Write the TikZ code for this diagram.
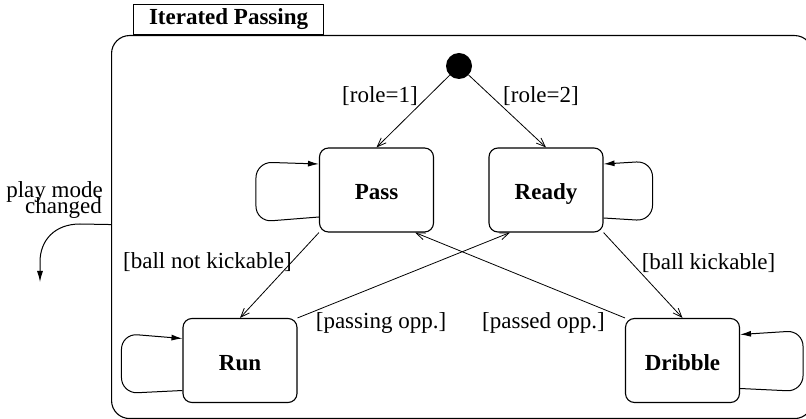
\documentclass[tikz,border=0pt]{standalone}
\usepackage{fontspec}
\setmainfont{Liberation Serif}
\usetikzlibrary{arrows.meta,calc}

\tikzset{
  txt/.style={font=\fontsize{23}{27}\selectfont, inner sep=0pt},
  statebox/.style={draw, line width=1.1pt, rounded corners=9pt,
    minimum width=114pt, minimum height=84pt, inner sep=0pt,
    text height=20pt, text depth=0pt,
    font=\fontsize{23}{27}\selectfont\bfseries},
  trans/.style={line width=0.8pt, -{Straight Barb[length=9pt,width=7pt]}},
  selfloop/.style={line width=1pt, rounded corners=16pt, -{Latex[length=11pt,width=6pt]}},
}

\begin{document}
\begin{tikzpicture}[x=1pt,y=-1pt]
  % canvas
  \path[fill=white,use as bounding box] (0,0) rectangle (806,419);

  % composite state frame and its name tab
  \node[draw, line width=1.1pt, rounded corners=18pt, minimum width=701pt,
        minimum height=383pt, inner sep=0pt, anchor=north west] (group) at (111,35) {};
  \node[draw, line width=1.1pt, minimum width=190pt, minimum height=30pt,
        inner sep=0pt, anchor=south west, font=\fontsize{23}{27}\selectfont\bfseries]
        (tab) at (133,35) {Iterated Passing};

  % initial pseudo-state
  \node[circle, fill=black, minimum size=26pt, inner sep=0pt] (init) at (459,66) {};

  % states
  \node[statebox] (Pass)    at (376.5,190) {Pass};
  \node[statebox] (Ready)   at (546,190)   {Ready};
  \node[statebox] (Run)     at (240,360.5) {Run};
  \node[statebox] (Dribble) at (682.5,360.5) {Dribble};

  % initial transitions
  \draw[trans] (init) -- (Pass.north);
  \draw[trans] (init) -- (Ready.north);
  \node[txt] (l1) at (380,96) {[role=1]};
  \node[txt] (l2) at (541,96) {[role=2]};

  % transitions between states
  \draw[trans] (Pass.south west) -- (Run.north);
  \draw[trans] (Run.north east) -- ($(Ready.south)+(-36,0)$);
  \draw[trans] (Dribble.north west) -- ($(Pass.south east)+(-19,0)$);
  \draw[trans] (Ready.south east) -- (Dribble.north);
  \node[txt] (l3) at (207.5,262) {[ball not kickable]};
  \node[txt] (l4) at (381,323) {[passing opp.]};
  \node[txt] (l5) at (543.5,323) {[passed opp.]};
  \node[txt] (l6) at (708.5,263) {[ball kickable]};

  % self transitions
  \draw[selfloop] ($(Pass.west)+(0,27)$) -- ++(-63,5) -- ++(0,-60) -- ($(Pass.west)+(0,-26)$);
  \draw[selfloop] ($(Ready.east)+(0,28)$) -- ++(49,3) -- ++(0,-60) -- ($(Ready.east)+(0,-26)$);
  \draw[selfloop] ($(Run.west)+(0,30)$) -- ++(-61,3) -- ++(0,-60) -- ($(Run.west)+(0,-22)$);
  \draw[selfloop] ($(Dribble.east)+(0,28)$) -- ++(63,3) -- ++(0,-61) -- ($(Dribble.east)+(0,-26)$);

  % leaving transition of the composite state
  \coordinate (exitpt) at (40,282);
  \draw[line width=1pt, -{Latex[length=11pt,width=6pt]}]
    ($(group.west)+(0,-2.5)$) -- (80,224) .. controls (55,224) and (40,240) .. (40,262) -- (exitpt);
  \node[txt, anchor=base east] (pm1) at (103,198) {play mode};
  \node[txt, anchor=base east] (pm2) at (102,213.5) {changed};
\end{tikzpicture}
\end{document}
